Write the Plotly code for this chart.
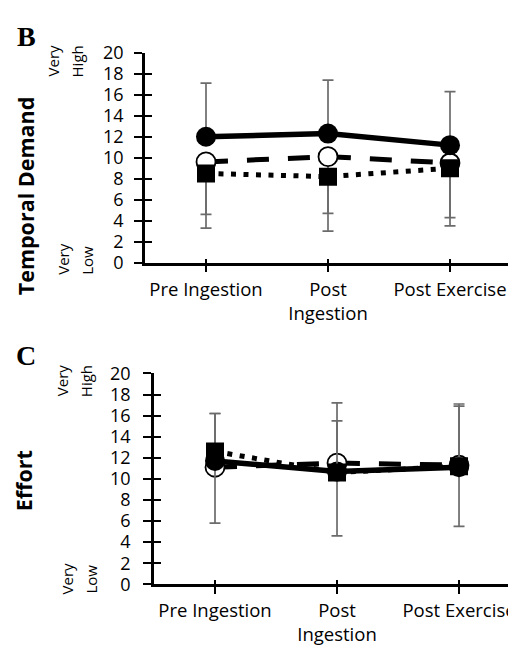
import plotly.graph_objects as go

# page body has an 8px default margin: the figure is sized to the remaining area
OFF = 8
W, H = 516 - OFF, 655 - OFF

categories = [0, 1, 2]
tick_labels = ["Pre Ingestion", "Post<br>Ingestion", "Post Exercise"]
y_ticks = [0, 2, 4, 6, 8, 10, 12, 14, 16, 18, 20]

# Panel B - Temporal Demand
td_solid = [12.0, 12.3, 11.2]
td_solid_plus = [5.1, 5.1, 5.1]
td_dashed = [9.6, 10.1, 9.5]
td_dashed_minus = [5.0, 5.4, 5.2]
td_dotted = [8.5, 8.2, 9.0]
td_dotted_minus = [5.2, 5.2, 5.5]

# Panel C - Effort
ef_solid = [11.7, 10.7, 11.1]
ef_solid_minus = [5.9, 6.1, 5.6]
ef_dashed = [11.1, 11.5, 11.3]
ef_dashed_plus = [5.1, 5.7, 5.8]
ef_dotted = [12.6, 10.6, 11.2]
ef_dotted_plus = [3.6, 4.9, 5.7]

ERR = "#6b6b6b"
FONT = "Open Sans"

def px_x(p):
    return (p - OFF) / W

def px_y(p):
    return 1 - (p - OFF) / H

fig = go.Figure()

def err(plus=None, minus=None):
    z = [0, 0, 0]
    return dict(type="data", symmetric=False,
                array=plus if plus else z, arrayminus=minus if minus else z,
                color=ERR, thickness=1.7, width=5.5)

def add_panel(xa, ya, solid, sp, sm, dashed, dp, dm, dotted, tp, tm):
    fig.add_trace(go.Scatter(x=categories, y=dashed, xaxis=xa, yaxis=ya, mode="lines+markers",
                             line=dict(color="black", width=5, dash="22px,19px"),
                             marker=dict(symbol="circle", size=19, color="white",
                                         line=dict(color="black", width=1.8)),
                             error_y=err(dp, dm), showlegend=False))
    fig.add_trace(go.Scatter(x=categories, y=solid, xaxis=xa, yaxis=ya, mode="lines+markers",
                             line=dict(color="black", width=5.5),
                             marker=dict(symbol="circle", size=20, color="black"),
                             error_y=err(sp, sm), showlegend=False))
    fig.add_trace(go.Scatter(x=categories, y=dotted, xaxis=xa, yaxis=ya, mode="lines+markers",
                             line=dict(color="black", width=5, dash="5px,7.5px"),
                             marker=dict(symbol="square", size=18, color="black"),
                             error_y=err(tp, tm), showlegend=False))

add_panel("x", "y", td_solid, td_solid_plus, None, td_dashed, None, td_dashed_minus,
          td_dotted, None, td_dotted_minus)
add_panel("x2", "y2", ef_solid, None, ef_solid_minus, ef_dashed, ef_dashed_plus, None,
          ef_dotted, ef_dotted_plus, None)

# invisible traces so overlay axes (cross ticks) render
for xa, ya in [("x", "y3"), ("x3", "y"), ("x2", "y4"), ("x4", "y2")]:
    fig.add_trace(go.Scatter(x=[None], y=[None], xaxis=xa, yaxis=ya, showlegend=False,
                             hoverinfo="skip"))

x_common = dict(showgrid=False, zeroline=False, linecolor="black", linewidth=2.5,
                tickcolor="black", tickwidth=2, ticklabeloverflow="allow",
                tickfont=dict(family=FONT, size=18.5, color="black"))
y_common = dict(showgrid=False, zeroline=False, linecolor="black", linewidth=2.5,
                tickcolor="black", tickwidth=2,
                tickfont=dict(family=FONT, size=18, color="black"))

# Panel B domains
bx = [px_x(145), min(1.0, px_x(511))]
by = [px_y(259), px_y(41)]
# Panel C domains
cx = [px_x(154), 1.0]
cy = [px_y(593), px_y(374)]

fig.update_layout(
    width=W, height=H, margin=dict(l=0, r=0, t=0, b=0),
    paper_bgcolor="white", plot_bgcolor="white",
    xaxis=dict(domain=bx, anchor="y", range=[-0.5, 2.5], tickvals=categories + [2.5],
               ticktext=tick_labels + [""], ticks="outside", ticklen=7, showline=True,
               ticklabelstandoff=1, **x_common),
    yaxis=dict(domain=by, anchor="x", range=[0, 20], tickvals=y_ticks, ticks="outside",
               ticklen=8, showline=True, ticklabelstandoff=7, **y_common),
    xaxis3=dict(overlaying="x", anchor="y", range=[-0.5, 2.5], tickvals=categories + [2.5],
                ticks="inside", ticklen=4, tickwidth=2, tickcolor="black",
                showticklabels=False, showline=False, showgrid=False, zeroline=False),
    yaxis3=dict(overlaying="y", anchor="x", range=[0, 20], tickvals=y_ticks, ticks="inside",
                ticklen=7, tickwidth=2, tickcolor="black", showticklabels=False,
                showline=False, showgrid=False, zeroline=False),
    xaxis2=dict(domain=cx, anchor="y2", range=[-0.5, 2.467], tickvals=categories,
                ticktext=tick_labels, ticks="outside", ticklen=7, showline=True,
                ticklabelstandoff=1, **x_common),
    yaxis2=dict(domain=cy, anchor="x2", range=[0, 20], tickvals=y_ticks, ticks="outside",
                ticklen=8, showline=True, ticklabelstandoff=9, **y_common),
    xaxis4=dict(overlaying="x2", anchor="y2", range=[-0.5, 2.467], tickvals=categories,
                ticks="inside", ticklen=4, tickwidth=2, tickcolor="black",
                showticklabels=False, showline=False, showgrid=False, zeroline=False),
    yaxis4=dict(overlaying="y2", anchor="x2", range=[0, 20], tickvals=y_ticks, ticks="inside",
                ticklen=7, tickwidth=2, tickcolor="black", showticklabels=False,
                showline=False, showgrid=False, zeroline=False),
)

def ann(text, x, y, size, angle=0, family=FONT, bold=False):
    fig.add_annotation(text=f"<b>{text}</b>" if bold else text, x=px_x(x), y=px_y(y),
                       xref="paper", yref="paper", showarrow=False, textangle=angle,
                       font=dict(family=family, size=size, color="black"),
                       xanchor="center", yanchor="middle")

ann("B", 26, 24, 28, family="Liberation Serif", bold=True)
ann("C", 26, 355, 28, family="Liberation Serif", bold=True)
ann("Temporal Demand", 25, 190, 21.5, angle=-90, bold=True)
ann("Effort", 23, 486, 21.5, angle=-90, bold=True)
# scale anchors
ann("Very", 53, 50, 15, angle=-90)
ann("High", 77, 50, 15, angle=-90)
ann("Very", 63, 256, 15, angle=-90)
ann("Low", 87, 257, 15, angle=-90)
ann("Very", 62, 382, 15, angle=-90)
ann("High", 86, 382, 15, angle=-90)
ann("Very", 67, 588, 15, angle=-90)
ann("Low", 91, 588, 15, angle=-90)

fig.write_html("out.html")
